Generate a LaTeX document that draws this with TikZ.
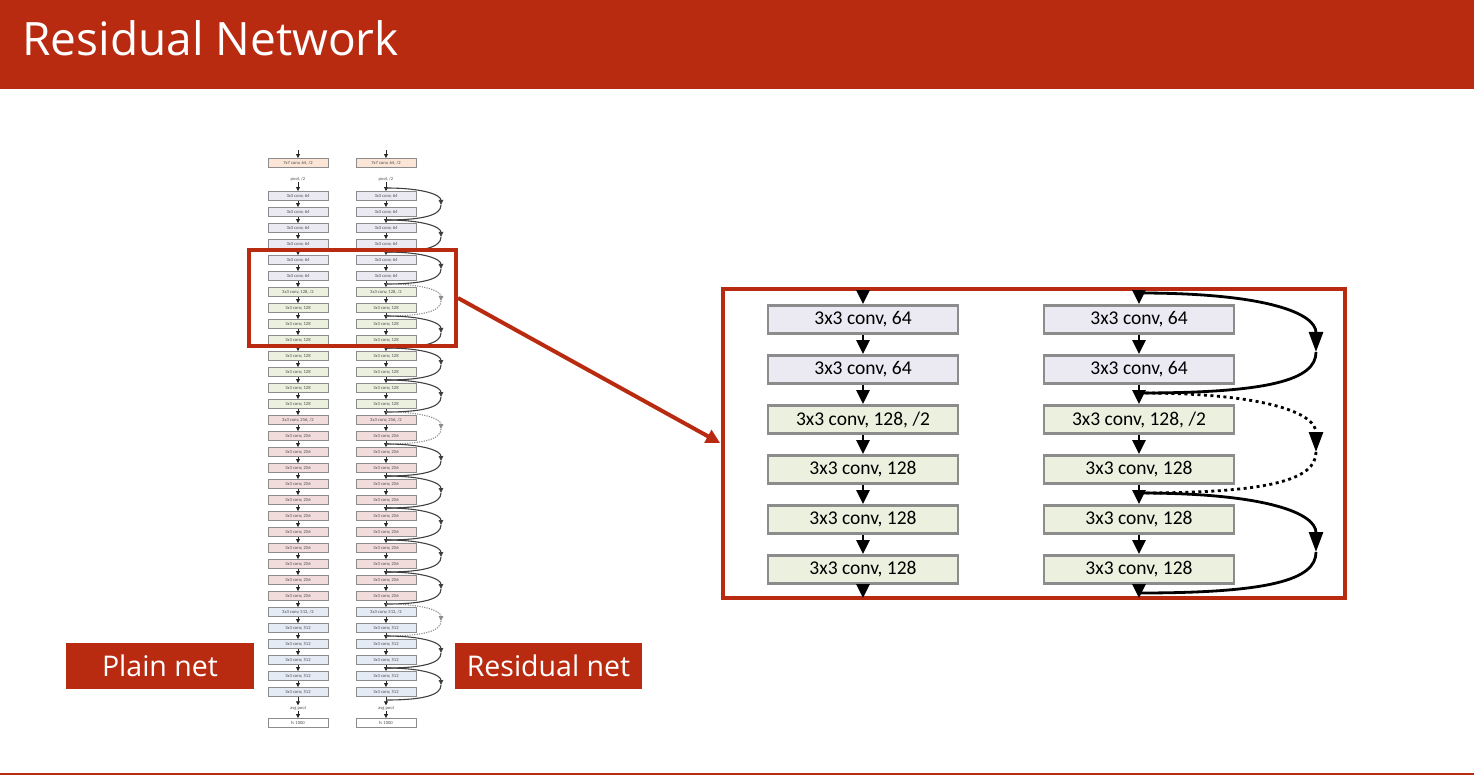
\documentclass[tikz,border=0pt]{standalone}
\usepackage{fontspec}
\setmainfont{Carlito}
\newfontfamily\osans{Open Sans}
\usetikzlibrary{arrows.meta}
\definecolor{brand}{RGB}{185,43,17}
\definecolor{cA}{RGB}{251,229,214}
\definecolor{c64}{RGB}{235,233,242}
\definecolor{c128}{RGB}{235,241,222}
\definecolor{c256}{RGB}{242,220,219}
\definecolor{c512}{RGB}{228,235,245}
\definecolor{bgray}{RGB}{140,140,140}
\begin{document}
\begin{tikzpicture}[x=1pt,y=-1pt,
  sbox/.style={draw=bgray, line width=0.9pt, minimum width=60pt, minimum height=9pt, inner sep=0pt, font=\fontsize{4.6}{5}\selectfont, text=black!70},
  slab/.style={inner sep=0.5pt, font=\fontsize{4.6}{5}\selectfont, text=black!70},
  sarr/.style={-{Triangle[width=4pt,length=4pt]}, line width=0.8pt, draw=black!85},
  ssc/.style={line width=1.1pt, draw=black!75},
  sscd/.style={line width=1.1pt, draw=black!45, dash pattern=on 1.2pt off 1.2pt},
  bbox/.style={draw=bgray, line width=2.8pt, minimum width=190pt, minimum height=28pt, inner sep=0pt, font=\fontsize{19.5}{22}\selectfont},
  barr/.style={-{Triangle[width=13pt,length=14pt]}, line width=2.8pt},
  bsc/.style={line width=2.8pt},
  bscd/.style={line width=2.8pt, dash pattern=on 3pt off 3.5pt},
  hlbox/.style={draw=brand, line width=4pt, inner sep=0pt},
  tag/.style={fill=brand, text=white, font=\osans\fontsize{28.5}{33}\selectfont, minimum width=188pt, minimum height=46pt, inner sep=0pt}
]
\useasboundingbox (0,0) rectangle (1474,775);
% header
\fill[brand] (0,0) rectangle (1474,89);
\node[anchor=base west, inner sep=0pt, text=white, font=\osans\fontsize{46}{54}\selectfont] (title) at (22,56) {Residual Network};
\fill[brand] (0,772.5) rectangle (1474,775);

% ---------- small plain / residual columns ----------
\foreach \cx/\p in {298/L,386/R}{
  \coordinate (\p t) at (\cx,150);
  \node[sbox, fill=cA] (\p 7) at (\cx,163) {7x7 conv, 64, /2};
  \draw[sarr] (\p t) -- (\p 7);
  \node[slab] (\p pool) at (\cx,179.5) {pool, /2};
  \node[slab] (\p avg) at (\cx,708) {avg pool};
  \node[sbox, fill=white] (\p fc) at (\cx,723) {fc 1000};
}
\foreach \i in {0,...,31}{%
  \pgfmathsetmacro{\yy}{196+16*\i}%
  \ifnum\i<6 \def\cc{c64}\def\lbl{3x3 conv, 64}%
  \else\ifnum\i<14 \def\cc{c128}\ifnum\i=6 \def\lbl{3x3 conv, 128, /2}\else\def\lbl{3x3 conv, 128}\fi
  \else\ifnum\i<26 \def\cc{c256}\ifnum\i=14 \def\lbl{3x3 conv, 256, /2}\else\def\lbl{3x3 conv, 256}\fi
  \else \def\cc{c512}\ifnum\i=26 \def\lbl{3x3 conv, 512, /2}\else\def\lbl{3x3 conv, 512}\fi
  \fi\fi\fi
  \node[sbox, fill=\cc] (L\i) at (298,\yy) {\lbl};
  \node[sbox, fill=\cc] (R\i) at (386,\yy) {\lbl};
}
\foreach \i in {0,...,30}{%
  \pgfmathtruncatemacro{\j}{\i+1}%
  \draw[sarr] (L\i) -- (L\j);
  \draw[sarr] (R\i) -- (R\j);
}
\foreach \p in {L,R}{
  \draw[sarr] (\p pool) -- (\p 0);
  \draw[sarr] (\p 31) -- (\p avg);
  \draw[sarr] (\p avg) -- (\p fc);
}
\foreach \n in {0,...,32}{%
  \pgfmathsetmacro{\yy}{188+16*\n}%
  \coordinate (G\n) at (386,\yy);
}
\foreach \k in {0,...,15}{%
  \pgfmathtruncatemacro{\a}{2*\k}%
  \pgfmathtruncatemacro{\b}{2*\k+2}%
  \pgfmathsetmacro{\yy}{205+32*\k}%
  \coordinate (P\k) at (441,\yy);
  \ifnum\k=3 \def\st{sscd}\else\ifnum\k=7 \def\st{sscd}\else\ifnum\k=13 \def\st{sscd}\else\def\st{ssc}\fi\fi\fi
  \draw[\st, -{Triangle[width=4.5pt,length=5pt]}] (G\a) .. controls +(38,0) and +(0,-10) .. (P\k);
  \draw[\st] (P\k) .. controls +(0,10) and +(38,0) .. (G\b);
}

% highlight box and connector
\node[hlbox, minimum width=207pt, minimum height=96pt] (hl) at (352.5,298) {};
\node[hlbox, minimum width=622pt, minimum height=309pt] (bf) at (1034,443.5) {};
\draw[brand, line width=4pt, shorten >=1pt, -{Triangle[width=14pt,length=14pt]}] (hl.east) -- (bf.west);

% ---------- enlarged view ----------
\foreach \i/\cc/\lbl in {0/c64/{3x3 conv, 64},1/c64/{3x3 conv, 64},2/c128/{3x3 conv, 128, /2},3/c128/{3x3 conv, 128},4/c128/{3x3 conv, 128},5/c128/{3x3 conv, 128}}{%
  \pgfmathsetmacro{\yy}{319.5+50*\i}%
  \node[bbox, fill=\cc] (BL\i) at (863,\yy) {\lbl};
  \node[bbox, fill=\cc] (BR\i) at (1139,\yy) {\lbl};
}
\coordinate (BLt) at (863,291);
\coordinate (BLb) at (863,598);
\coordinate (BRt) at (1139,291);
\coordinate (BRb) at (1139,598);
\foreach \p in {BL,BR}{
  \draw[barr] (\p t) -- (\p 0);
  \draw[barr] (\p 5) -- (\p b);
  \foreach \i in {0,...,4}{%
    \pgfmathtruncatemacro{\j}{\i+1}%
    \draw[barr] (\p\i) -- (\p\j);
  }
}
\coordinate (S0) at (1139,293);
\coordinate (M0) at (1316,352);
\coordinate (S1) at (1139,393);
\coordinate (M1) at (1316,452);
\coordinate (S2) at (1139,493);
\coordinate (M2) at (1316,552);
\coordinate (S3) at (1139,593);
\draw[bsc, -{Triangle[width=14pt,length=20pt]}] (S0) .. controls +(130,0) and +(0,-38) .. (M0);
\draw[bsc] (M0) .. controls +(0,28) and +(130,0) .. (S1);
\draw[bscd, -{Triangle[width=14pt,length=20pt]}] (S1) .. controls +(130,0) and +(0,-38) .. (M1);
\draw[bscd] (M1) .. controls +(0,28) and +(130,0) .. (S2);
\draw[bsc, -{Triangle[width=14pt,length=20pt]}] (S2) .. controls +(130,0) and +(0,-38) .. (M2);
\draw[bsc] (M2) .. controls +(0,28) and +(130,0) .. (S3);

% labels
\node[tag] (plain) at (160,666) {Plain net};
\node[tag, minimum width=187pt] (resid) at (548.5,666) {Residual net};
\end{tikzpicture}
\end{document}
